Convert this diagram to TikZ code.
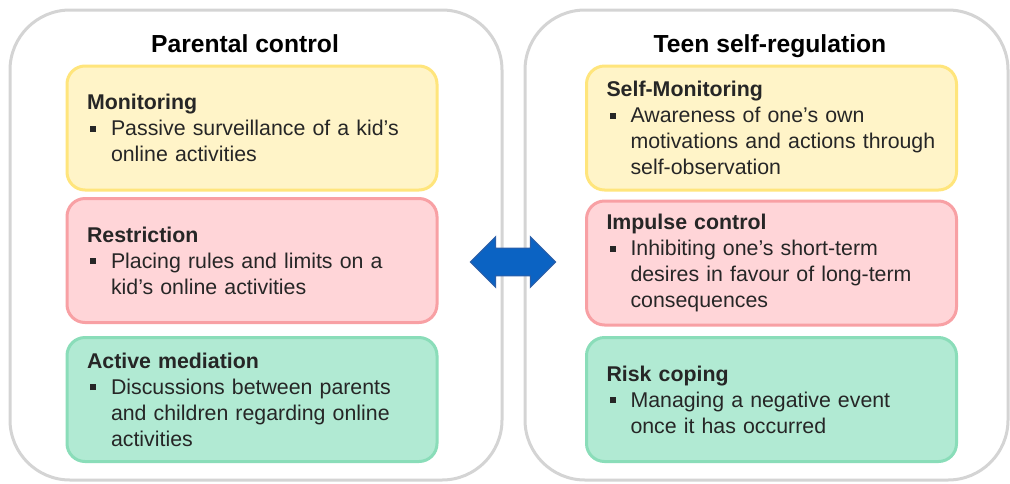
\documentclass[tikz,border=0pt]{standalone}
\usepackage{fontspec}
\setmainfont{Liberation Sans}
\usetikzlibrary{shapes.arrows}

\definecolor{panelgray}{HTML}{D4D4D4}
\definecolor{yellowfill}{HTML}{FFF4C8}
\definecolor{yellowedge}{HTML}{FFE57C}
\definecolor{redfill}{HTML}{FFD5D8}
\definecolor{rededge}{HTML}{F8A0A4}
\definecolor{greenfill}{HTML}{B1EAD3}
\definecolor{greenedge}{HTML}{8ADDB9}
\definecolor{arrowblue}{HTML}{0B63C3}
\definecolor{arrowedge}{HTML}{2A5EA8}
\definecolor{textdark}{HTML}{262626}

% square bullet and hanging indent for the box texts
\newcommand{\bul}{\hspace*{2.25pt}\raisebox{3pt}{\rule{4.5pt}{4.5pt}}\hspace*{11.25pt}}
\newcommand{\ind}{\hspace*{18pt}}

\begin{document}
\begin{tikzpicture}[x=0.75pt, y=-0.75pt]
	\tikzstyle{panel} = [draw=panelgray, line width=2.25pt, fill=white, rounded corners=45pt, minimum height=352.5pt]
	\tikzstyle{title} = [anchor=base, font=\fontsize{18.5}{22}\selectfont\bfseries]
	\tikzstyle{box} = [rounded corners=13.5pt, line width=2.25pt, text width=247.5pt, inner xsep=15pt, inner ysep=0pt, minimum height=93pt, align=left, text=textdark, font=\fontsize{16}{19.5}\selectfont]
	\tikzstyle{yellowbox} = [box, fill=yellowfill, draw=yellowedge]
	\tikzstyle{redbox} = [box, fill=redfill, draw=rededge]
	\tikzstyle{greenbox} = [box, fill=greenfill, draw=greenedge]
	\useasboundingbox (0,0) rectangle (1010,483);

	% the two panels
	\node[panel, minimum width=369pt] (pc) at (256, 245) {};
	\node[panel, minimum width=362.25pt] (tsr) at (766.5, 245) {};
	\node[title] (pctitle) at (245, 52) {Parental control};
	\node[title] (tsrtitle) at (770, 52) {Teen self-regulation};

	% parental control
	\node[yellowbox] (mon) at (252, 128) {\textbf{Monitoring}\\
		\bul Passive surveillance of a kid’s\\
		\ind online activities};
	\node[redbox] (res) at (252, 260.5) {\textbf{Restriction}\\
		\bul Placing rules and limits on a\\
		\ind kid’s online activities};
	\node[greenbox] (med) at (252, 399.5) {\textbf{Active mediation}\\
		\bul Discussions between parents\\
		\ind and children regarding online\\
		\ind activities};

	% teen self-regulation
	\node[yellowbox] (smon) at (771.5, 128) {\textbf{Self-Monitoring}\\
		\bul Awareness of one’s own\\
		\ind motivations and actions through\\
		\ind self-observation};
	\node[redbox] (imp) at (771.5, 263) {\textbf{Impulse control}\\
		\bul Inhibiting one’s short-term\\
		\ind desires in favour of long-term\\
		\ind consequences};
	\node[greenbox] (risk) at (771.5, 399.5) {\textbf{Risk coping}\\
		\bul Managing a negative event\\
		\ind once it has occurred};

	% link between the two sides
	\node[double arrow, fill=arrowblue, draw=arrowedge, line width=0.75pt, inner xsep=0pt, inner ysep=10pt, minimum height=64pt, double arrow head extend=8.6pt] (link) at (513, 262) {};
\end{tikzpicture}
\end{document}
